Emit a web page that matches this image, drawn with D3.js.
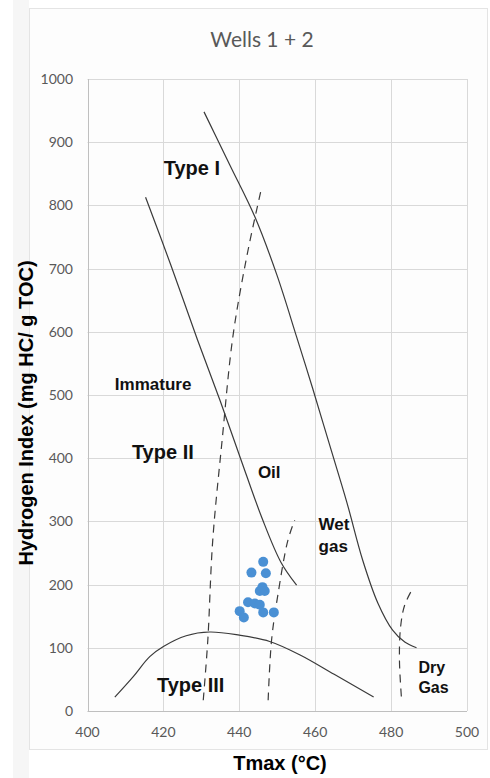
<!DOCTYPE html>
<html>
<head>
<meta charset="utf-8">
<script src="https://cdn.jsdelivr.net/npm/d3@7"></script>
<style>
  body { margin: 0; background: #fff; }
  svg { display: block; }
</style>
</head>
<body>
<svg id="chart"></svg>
<script>
// chart data
var xTicks = [400, 420, 440, 460, 480, 500];
var yTicks = [0, 100, 200, 300, 400, 500, 600, 700, 800, 900, 1000];

// samples: Tmax and HI
var sampleTmax = [446.3, 443.2, 447.0, 445.4, 446.7, 446.1, 442.3, 444.1, 445.4, 440.1, 446.3, 449.1, 441.2];
var sampleHI   = [236, 219, 218, 190, 190, 196, 172, 170, 168, 158, 156, 156, 148];

// kerogen type curves (solid)
var typeI   = [[430.7, 948], [437.5, 864], [444.1, 782], [449.9, 690], [455.1, 592], [459.3, 511], [463.8, 421], [468.3, 331], [472.5, 239], [476.5, 171], [480.4, 128], [483.6, 109], [486.7, 100]];
var typeII  = [[415.3, 813], [422, 705], [429, 587], [435, 490], [440.3, 400], [446, 305], [451, 235], [455.1, 199]];
var typeIII = [[407.2, 22], [412, 54], [416.4, 86], [420, 102], [426, 119], [432.2, 125], [440, 120], [448, 110], [455.9, 89], [465, 58], [475.4, 22]];

// maturity boundaries (dashed)
var oilStart = [[430.5, 17], [431.7, 112], [433, 270], [435.5, 430], [438.3, 592], [442, 720], [445.8, 826]];
var gasStart = [[447.6, 17], [448.5, 112], [450.2, 185], [452.8, 270], [454.6, 302]];
var dryStart = [[482.7, 23], [482.2, 81], [482.5, 133], [483.6, 168], [485.9, 196]];

// zone labels [text, tmax, hi, size]
var labels = [
  ["Type I", 420.1, 848, 20],
  ["Immature", 407.2, 508, 17],
  ["Type II", 411.7, 399, 20],
  ["Oil", 444.9, 369, 17],
  ["Wet", 460.9, 287, 17],
  ["gas", 460.9, 252, 17],
  ["Dry", 487.2, 60, 16],
  ["Gas", 487.2, 29, 16],
  ["Type III", 418.3, 30, 20]
];

var width = 490,
    height = 778,
    margin = {top: 79, right: 23, bottom: 67, left: 87.5};

var svg = d3.select("#chart")
  .attr("width", width)
  .attr("height", height);

// background panels
svg.append("rect")
  .attr("x", 13).attr("y", 0)
  .attr("width", 16).attr("height", height)
  .attr("fill", "#f6f6f6");
svg.append("rect")
  .attr("x", 29.5).attr("y", 8.5)
  .attr("width", 458).attr("height", 741)
  .attr("fill", "#fdfdfd")
  .attr("stroke", "#e4e4e4");

var x = d3.scaleLinear()
  .domain([400, 500])
  .range([margin.left, width - margin.right]);

var y = d3.scaleLinear()
  .domain([0, 1000])
  .range([height - margin.bottom, margin.top]);

// grid
svg.append("g")
  .selectAll("line")
  .data(yTicks)
  .join("line")
  .attr("x1", x(400)).attr("x2", x(500))
  .attr("y1", function(d) { return Math.round(y(d)) + 0.5; })
  .attr("y2", function(d) { return Math.round(y(d)) + 0.5; })
  .attr("stroke", function(d) { return d == 0 ? "#bfbfbf" : "#d9d9d9"; });

svg.append("g")
  .selectAll("line")
  .data(xTicks)
  .join("line")
  .attr("y1", y(0)).attr("y2", y(1000))
  .attr("x1", function(d) { return Math.round(x(d)) + 0.5; })
  .attr("x2", function(d) { return Math.round(x(d)) + 0.5; })
  .attr("stroke", function(d) { return d == 400 ? "#bfbfbf" : "#d9d9d9"; });

// tick labels
svg.append("g")
  .selectAll("text")
  .data(yTicks)
  .join("text")
  .attr("x", 73)
  .attr("y", function(d) { return y(d) + 5; })
  .attr("text-anchor", "end")
  .style("font", "14px Lato, 'Open Sans', sans-serif")
  .attr("fill", "#595959")
  .text(function(d) { return d; });

svg.append("g")
  .selectAll("text")
  .data(xTicks)
  .join("text")
  .attr("x", function(d) { return x(d); })
  .attr("y", 737)
  .attr("text-anchor", "middle")
  .style("font", "14px Lato, 'Open Sans', sans-serif")
  .attr("fill", "#595959")
  .text(function(d) { return d; });

// title and axis titles
svg.append("text")
  .attr("x", 262).attr("y", 47)
  .attr("text-anchor", "middle")
  .style("font", "21px Lato, 'Open Sans', sans-serif")
  .attr("fill", "#595959")
  .text("Wells 1 + 2");

svg.append("text")
  .attr("x", 280).attr("y", 770)
  .attr("text-anchor", "middle")
  .style("font", "bold 20px 'Liberation Sans', Arial, sans-serif")
  .attr("fill", "#000")
  .text("Tmax (°C)");

svg.append("text")
  .attr("transform", "translate(33,413) rotate(-90)")
  .attr("text-anchor", "middle")
  .style("font", "bold 20px 'Liberation Sans', Arial, sans-serif")
  .attr("fill", "#000")
  .text("Hydrogen Index (mg HC/ g TOC)");

// curves
var line = d3.line()
  .x(function(d) { return x(d[0]); })
  .y(function(d) { return y(d[1]); })
  .curve(d3.curveCatmullRom);

svg.append("g")
  .selectAll("path")
  .data([typeI, typeII, typeIII])
  .join("path")
  .attr("d", line)
  .attr("fill", "none")
  .attr("stroke", "#3a3a3a")
  .attr("stroke-width", 1.2);

svg.append("g")
  .selectAll("path")
  .data([oilStart, gasStart, dryStart])
  .join("path")
  .attr("d", line)
  .attr("fill", "none")
  .attr("stroke", "#3a3a3a")
  .attr("stroke-width", 1.2)
  .attr("stroke-dasharray", "8,6");

// zone labels
svg.append("g")
  .selectAll("text")
  .data(labels)
  .join("text")
  .attr("x", function(d) { return x(d[1]); })
  .attr("y", function(d) { return y(d[2]); })
  .style("font-family", "'Liberation Sans', Arial, sans-serif")
  .style("font-weight", "bold")
  .style("font-size", function(d) { return d[3] + "px"; })
  .attr("fill", "#111")
  .text(function(d) { return d[0]; });

// samples
svg.append("g")
  .selectAll("circle")
  .data(sampleTmax)
  .join("circle")
  .attr("cx", function(d) { return x(d); })
  .attr("cy", function(d, i) { return y(sampleHI[i]); })
  .attr("r", 5)
  .attr("fill", "#4a90d4");
</script>
</body>
</html>
